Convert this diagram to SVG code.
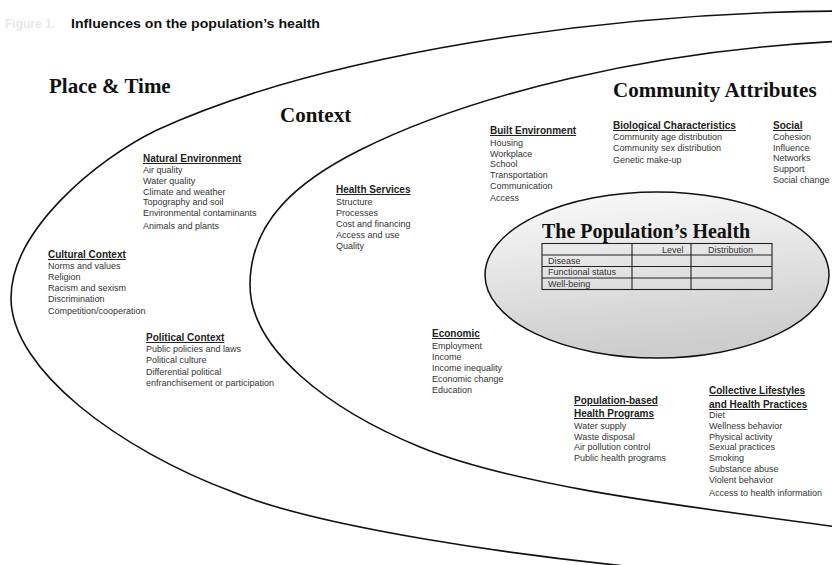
<svg xmlns="http://www.w3.org/2000/svg" width="832" height="565" viewBox="0 0 832 565">
<style>
.bg{fill:#fff}
.curve{fill:none;stroke:#111;stroke-width:1.6}
.big{font-family:"Liberation Serif","Times New Roman",serif;font-weight:bold;font-size:21px;fill:#111}
.hd{font-family:"Liberation Sans",Arial,sans-serif;font-weight:bold;font-size:10px;fill:#222;text-decoration:underline}
.it{font-family:"Liberation Sans",Arial,sans-serif;font-size:9px;fill:#333}
.tb{fill:none;stroke:#222;stroke-width:1.1}
.tt{font-family:"Liberation Sans",Arial,sans-serif;font-size:9px;fill:#333}
</style>
<defs>
<linearGradient id="ellGrad" x1="0" y1="0" x2="0.2" y2="1">
<stop offset="0" stop-color="#fbfbfb"/>
<stop offset="1" stop-color="#cdcdcd"/>
</linearGradient>
</defs>
<rect class="bg" x="0" y="0" width="832" height="565"/>
<g id="title">
<text x="5" y="28" font-family="Liberation Sans,Arial,sans-serif" font-weight="bold" font-size="12" fill="#e8e8e8">Figure 1.</text>
<text x="71" y="28" font-family="Liberation Sans,Arial,sans-serif" font-weight="bold" font-size="12" fill="#111" textLength="249" lengthAdjust="spacingAndGlyphs">Influences on the population’s health</text>
</g>
<g id="connectors">
<path id="outer-curve" class="curve" d="M 845 11 C 600 12, 320 55, 157 130 C 97 159, 11 230, 11 298 C 11 370, 120 450, 233 492 C 320 528, 520 556, 645 568"/>
<path id="context-curve" class="curve" d="M 845 41 C 650 50, 470 95, 360 150 C 300 180, 250 220, 250 285 C 250 350, 330 410, 420 447 C 520 488, 700 508, 845 528"/>
</g>
<g id="place-time">
<text class="big" x="49" y="93">Place &amp; Time</text>
</g>
<g id="context">
<text class="big" x="280" y="122">Context</text>
</g>
<g id="community-attributes">
<text class="big" x="613" y="97">Community Attributes</text>
</g>
<g id="natural-environment">
<text class="hd" x="143" y="162">Natural Environment</text>
<text class="it" x="143" y="173">Air quality</text>
<text class="it" x="143" y="184">Water quality</text>
<text class="it" x="143" y="195">Climate and weather</text>
<text class="it" x="143" y="205">Topography and soil</text>
<text class="it" x="143" y="216">Environmental contaminants</text>
<text class="it" x="143" y="229">Animals and plants</text>
</g>
<g id="cultural-context">
<text class="hd" x="48" y="258">Cultural Context</text>
<text class="it" x="48" y="269">Norms and values</text>
<text class="it" x="48" y="280">Religion</text>
<text class="it" x="48" y="291">Racism and sexism</text>
<text class="it" x="48" y="302">Discrimination</text>
<text class="it" x="48" y="314">Competition/cooperation</text>
</g>
<g id="political-context">
<text class="hd" x="146" y="341">Political Context</text>
<text class="it" x="146" y="352">Public policies and laws</text>
<text class="it" x="146" y="363">Political culture</text>
<text class="it" x="146" y="375">Differential political</text>
<text class="it" x="146" y="386">enfranchisement or participation</text>
</g>
<g id="health-services">
<text class="hd" x="336" y="193">Health Services</text>
<text class="it" x="336" y="205">Structure</text>
<text class="it" x="336" y="216">Processes</text>
<text class="it" x="336" y="227">Cost and financing</text>
<text class="it" x="336" y="238">Access and use</text>
<text class="it" x="336" y="249">Quality</text>
</g>
<g id="built-environment">
<text class="hd" x="490" y="134">Built Environment</text>
<text class="it" x="490" y="146">Housing</text>
<text class="it" x="490" y="157">Workplace</text>
<text class="it" x="490" y="167">School</text>
<text class="it" x="490" y="178">Transportation</text>
<text class="it" x="490" y="189">Communication</text>
<text class="it" x="490" y="201">Access</text>
</g>
<g id="biological-characteristics">
<text class="hd" x="613" y="129">Biological Characteristics</text>
<text class="it" x="613" y="140">Community age distribution</text>
<text class="it" x="613" y="151">Community sex distribution</text>
<text class="it" x="613" y="163">Genetic make-up</text>
</g>
<g id="social">
<text class="hd" x="773" y="129">Social</text>
<text class="it" x="773" y="140">Cohesion</text>
<text class="it" x="773" y="151">Influence</text>
<text class="it" x="773" y="161">Networks</text>
<text class="it" x="773" y="172">Support</text>
<text class="it" x="773" y="183">Social change</text>
</g>
<g id="populations-health">
<ellipse cx="657" cy="275" rx="172" ry="83" fill="url(#ellGrad)" stroke="#111" stroke-width="1.5"/>
<text x="542" y="238" font-family="Liberation Serif,Times New Roman,serif" font-weight="bold" font-size="20" fill="#111">The Population’s Health</text>
<rect class="tb" x="542" y="243.5" width="230" height="46"/>
<line class="tb" x1="542" y1="255" x2="772" y2="255"/>
<line class="tb" x1="542" y1="266.5" x2="772" y2="266.5"/>
<line class="tb" x1="542" y1="278" x2="772" y2="278"/>
<line class="tb" x1="632" y1="243.5" x2="632" y2="289.5"/>
<line class="tb" x1="691" y1="243.5" x2="691" y2="289.5"/>
<text class="tt" x="662" y="252.5">Level</text>
<text class="tt" x="708" y="252.5">Distribution</text>
<text class="tt" x="548" y="263.5">Disease</text>
<text class="tt" x="548" y="275">Functional status</text>
<text class="tt" x="548" y="286.5">Well-being</text>
</g>
<g id="economic">
<text class="hd" x="432" y="337">Economic</text>
<text class="it" x="432" y="349">Employment</text>
<text class="it" x="432" y="360">Income</text>
<text class="it" x="432" y="371">Income inequality</text>
<text class="it" x="432" y="382">Economic change</text>
<text class="it" x="432" y="393">Education</text>
</g>
<g id="population-based-programs">
<text class="hd" x="574" y="404">Population-based</text>
<text class="hd" x="574" y="417">Health Programs</text>
<text class="it" x="574" y="429">Water supply</text>
<text class="it" x="574" y="440">Waste disposal</text>
<text class="it" x="574" y="450">Air pollution control</text>
<text class="it" x="574" y="461">Public health programs</text>
</g>
<g id="collective-lifestyles">
<text class="hd" x="709" y="394">Collective Lifestyles</text>
<text class="hd" x="709" y="408">and Health Practices</text>
<text class="it" x="709" y="418">Diet</text>
<text class="it" x="709" y="429">Wellness behavior</text>
<text class="it" x="709" y="440">Physical activity</text>
<text class="it" x="709" y="450">Sexual practices</text>
<text class="it" x="709" y="461">Smoking</text>
<text class="it" x="709" y="472">Substance abuse</text>
<text class="it" x="709" y="483">Violent behavior</text>
<text class="it" x="709" y="496">Access to health information</text>
</g>
</svg>
